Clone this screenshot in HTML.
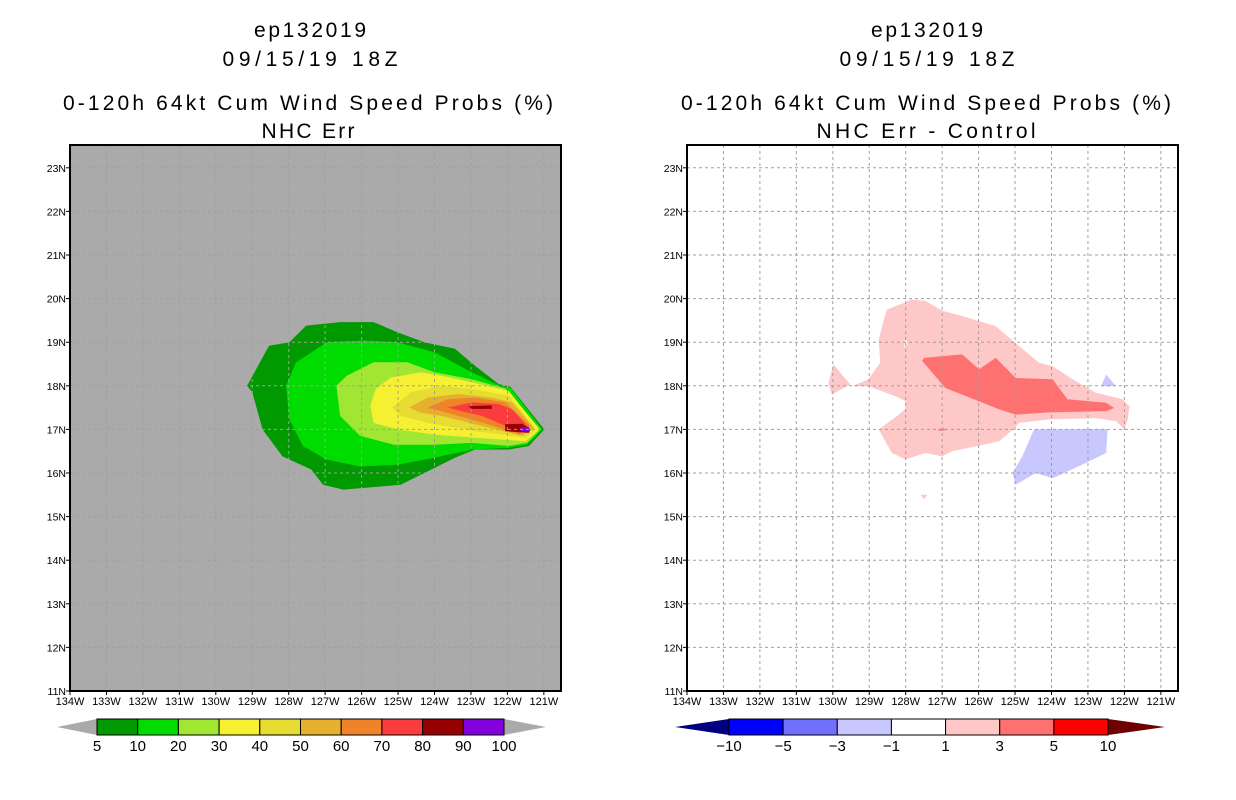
<!DOCTYPE html>
<html><head><meta charset="utf-8"><style>
html,body{margin:0;padding:0;background:#fff;}
svg{display:block;font-family:"Liberation Sans",sans-serif;}
</style></head><body>
<svg id="chart" width="1236" height="800" xmlns="http://www.w3.org/2000/svg">
<g font-size="21" text-anchor="middle" fill="#000">
<text x="310" y="37" textLength="112" lengthAdjust="spacing">ep132019</text><text x="310" y="66" textLength="175" lengthAdjust="spacing">09/15/19 18Z</text>
<text x="308" y="110" textLength="490" lengthAdjust="spacing">0-120h 64kt Cum Wind Speed Probs (%)</text><text x="308" y="138" textLength="93" lengthAdjust="spacing">NHC Err</text></g>
<g font-size="21" text-anchor="middle" fill="#000">
<text x="927" y="37" textLength="112" lengthAdjust="spacing">ep132019</text><text x="927" y="66" textLength="175" lengthAdjust="spacing">09/15/19 18Z</text>
<text x="926" y="110" textLength="490" lengthAdjust="spacing">0-120h 64kt Cum Wind Speed Probs (%)</text><text x="926" y="138" textLength="219" lengthAdjust="spacing">NHC Err - Control</text></g>
</svg>
<script>
// ---- data ----
const lonTicks=[134,133,132,131,130,129,128,127,126,125,124,123,122,121];
const latTicks=[11,12,13,14,15,16,17,18,19,20,21,22,23];
const probLevels=[5,10,20,30,40,50,60,70,80,90,100];
const probColors=["#009900","#00dc00","#a0e632","#f5f032","#e6dc32","#e6af2d","#f08228","#fa3c3c","#960000","#8200dc"];
const diffLevels=[-10,-5,-3,-1,1,3,5,10];
const diffColors=["#0000ff","#7070ff","#c8c8ff","#ffffff","#ffc8c8","#ff7070","#ff0000"];
const prob5=[[129.14,18.0],[128.54,18.92],[127.98,19.0],[127.52,19.38],[126.59,19.46],[125.67,19.46],[125.02,19.23],[124.28,19.0],[123.44,18.85],[122.89,18.46],[122.24,18.04],[121.92,17.98],[120.99,17.0],[121.41,16.62],[121.96,16.54],[122.89,16.54],[123.44,16.35],[124.28,16.0],[124.93,15.73],[126.5,15.62],[127.06,15.73],[127.38,16.08],[128.17,16.38],[128.72,17.0],[129.0,17.85]];
const prob10=[[128.07,18.0],[127.8,18.54],[127.52,18.69],[126.96,19.0],[125.94,19.04],[125.02,19.0],[124.0,18.77],[122.98,18.31],[122.15,17.98],[121.92,17.96],[121.04,17.0],[121.46,16.65],[121.96,16.58],[122.98,16.54],[124.0,16.35],[125.02,16.19],[126.04,16.15],[126.96,16.31],[127.61,16.62],[127.98,17.23]];
const prob20=[[126.69,18.0],[126.41,18.23],[125.67,18.54],[124.74,18.54],[124.0,18.31],[122.98,18.15],[122.06,17.94],[121.09,17.0],[121.46,16.69],[121.96,16.62],[122.98,16.69],[124.0,16.65],[125.11,16.65],[126.04,16.85],[126.59,17.31]];
const prob30=[[125.76,17.54],[125.62,17.92],[125.2,18.19],[124.37,18.31],[123.81,18.23],[122.98,18.08],[121.96,17.88],[121.13,17.0],[121.5,16.73],[122.89,16.81],[124.0,16.88],[125.02,17.0],[125.67,17.15]];
const prob40=[[125.16,17.5],[124.65,17.85],[123.81,18.0],[122.89,17.92],[121.96,17.77],[121.22,17.0],[121.5,16.81],[122.89,16.96],[124.19,17.15],[124.93,17.31]];
const prob50=[[124.69,17.5],[124.19,17.73],[123.35,17.81],[122.43,17.73],[121.87,17.62],[121.27,17.04],[121.59,16.85],[122.7,17.08],[123.81,17.31],[124.37,17.38]];
const prob60=[[124.19,17.5],[123.63,17.69],[122.89,17.73],[122.06,17.62],[121.37,17.08],[121.68,16.88],[122.52,17.12],[123.35,17.31],[123.81,17.42]];
const prob70=[[123.63,17.5],[122.98,17.62],[122.24,17.58],[121.87,17.46],[121.41,17.04],[121.68,16.92],[122.15,17.12],[122.7,17.31],[123.26,17.42]];
const prob80a=[[123.07,17.53],[122.43,17.55],[122.43,17.47],[122.98,17.47]];
const prob80b=[[122.06,17.12],[121.59,17.13],[121.37,17.0],[121.41,16.92],[122.06,16.96]];
const prob90=[[121.64,17.04],[121.41,17.06],[121.39,16.96],[121.64,16.96]];
const diffPos1=[[128.51,19.75],[127.83,19.98],[127.46,19.95],[127.0,19.72],[126.45,19.6],[125.53,19.37],[124.89,18.91],[124.34,18.53],[123.97,18.45],[123.42,18.15],[122.78,17.84],[122.05,17.69],[121.86,17.53],[121.91,17.23],[122.0,17.0],[122.23,17.19],[122.78,17.26],[124.06,17.23],[124.89,17.15],[125.16,16.92],[125.44,16.73],[126.08,16.61],[126.72,16.5],[127.0,16.38],[127.46,16.46],[128.01,16.31],[128.38,16.46],[128.74,17.0],[128.19,17.34],[128.01,17.46],[128.01,17.65],[128.28,17.76],[129.02,17.99],[129.48,17.99],[129.02,18.15],[128.7,18.53],[128.74,19.07],[128.56,19.64]];
const diffPosWest=[[129.98,18.49],[129.52,18.03],[130.03,17.8],[130.12,18.07]];
const diffPosSouth=[[127.6,15.5],[127.41,15.5],[127.5,15.4]];
const diffPos3=[[127.5,18.64],[126.45,18.72],[125.99,18.38],[125.53,18.64],[124.98,18.18],[123.97,18.15],[123.56,17.69],[122.5,17.61],[122.28,17.49],[122.5,17.42],[124.06,17.39],[124.98,17.34],[125.44,17.46],[126.91,17.95],[127.55,18.57]];
const diffPos3b=[[127.1,17.01],[126.95,17.02],[126.9,16.98],[127.1,16.97]];
const diffNeg1=[[124.48,17.0],[122.46,17.01],[122.5,16.46],[123.06,16.23],[123.97,15.88],[124.43,16.0],[124.98,15.73],[125.07,16.0],[124.8,16.38]];
const diffNeg1b=[[122.5,18.26],[122.23,17.99],[122.64,17.99]];
const diffHole=[[128.0,19.1],[127.95,18.95],[128.05,18.88]];

// ---- drawing ----
const NS="http://www.w3.org/2000/svg";
const svg=document.getElementById('chart');
function mk(tag,attrs,parent){const e=document.createElementNS(NS,tag);for(const k in attrs)e.setAttribute(k,attrs[k]);(parent||svg).appendChild(e);return e;}
const PX_DEG_X=36.45, PX_DEG_Y=43.6, TOP=145, BOT=691, W=491;
function panel(x0,bg,name){
  const xs=lon=>x0+(134-lon)*PX_DEG_X;
  const ys=lat=>BOT-(lat-11)*PX_DEG_Y;
  const g=mk('g',{});
  
  
  const cp=mk('clipPath',{id:name+'-clip'},g);
  mk('rect',{x:x0,y:TOP,width:W,height:BOT-TOP},cp);
  const bgr=mk('rect',{x:x0,y:TOP,width:W,height:BOT-TOP,fill:bg},g);
  
  
  const cg=mk('g',{'clip-path':'url(#'+name+'-clip)'},g);
  return {xs,ys,g,cg,x0};
}
function poly(p,pts,fill,nm){
  const e=mk('polygon',{points:pts.map(q=>p.xs(q[0]).toFixed(1)+','+p.ys(q[1]).toFixed(1)).join(' '),fill:fill},p.cg);
  
  
}
function axes(p){
  const gg=mk('g',{stroke:'#a0a0a0','stroke-width':1,'stroke-dasharray':'3,3'},p.cg);
  lonTicks.forEach(l=>{if(l<134)mk('line',{x1:p.xs(l),x2:p.xs(l),y1:TOP,y2:BOT},gg);});
  latTicks.forEach(l=>{if(l>11)mk('line',{x1:p.x0,x2:p.x0+W,y1:p.ys(l),y2:p.ys(l)},gg);});
  const fr=mk('rect',{x:p.x0,y:TOP,width:W,height:BOT-TOP,fill:'none',stroke:'#000','stroke-width':2},p.g);
  
  
  lonTicks.forEach(l=>{
    const x=p.xs(l);
    mk('line',{x1:x,x2:x,y1:BOT,y2:BOT+4,stroke:'#000'},p.g);
    const t=mk('text',{x:x,y:BOT+14,'font-size':11,'text-anchor':'middle'},p.g);
    t.textContent=l+'W';
    
    
  });
  latTicks.forEach(l=>{
    const y=p.ys(l);
    mk('line',{x1:p.x0-4,x2:p.x0,y1:y,y2:y,stroke:'#000'},p.g);
    const t=mk('text',{x:p.x0-4,y:y+4,'font-size':10.5,'text-anchor':'end'},p.g);
    t.textContent=l+'N';
    
    
  });
}
// left
const L=panel(70,'#aaaaaa','left-prob-map');
[prob5,prob10,prob20,prob30,prob40,prob50,prob60,prob70].forEach((pts,i)=>poly(L,pts,probColors[i],'prob-contour-'+probLevels[i]));
poly(L,prob80a,probColors[8],'prob-contour-80');
poly(L,prob80b,probColors[8],'prob-contour-80');
poly(L,prob90,probColors[9],'prob-contour-90');
axes(L);
// right
const R=panel(687,'#ffffff','right-diff-map');
poly(R,diffPos1,diffColors[4],'diff-contour-1');
poly(R,diffPosWest,diffColors[4],'diff-contour-1');
poly(R,diffPosSouth,diffColors[4],'diff-contour-1');
poly(R,diffHole,'#ffffff','diff-hole');
poly(R,diffPos3,diffColors[5],'diff-contour-3');
poly(R,diffPos3b,diffColors[5],'diff-contour-3');
poly(R,diffNeg1,diffColors[2],'diff-contour-neg1');
poly(R,diffNeg1b,diffColors[2],'diff-contour-neg1');
axes(R);
// colorbars
function colorbar(x0,x1,tl,tr,colors,labels,lc,rc,name){
  const g=mk('g',{});
  
  
  const y0=719,y1=735,ym=727,n=colors.length,w=(x1-x0)/n;
  mk('polygon',{points:`${tl},${ym} ${x0},${y0} ${x0},${y1}`,fill:lc},g);
  mk('polygon',{points:`${tr},${ym} ${x1},${y0} ${x1},${y1}`,fill:rc},g);
  colors.forEach((c,i)=>{
    const r=mk('rect',{x:x0+i*w,y:y0,width:w,height:y1-y0,fill:c,stroke:'#000','stroke-width':1},g);
    
    
  });
  labels.forEach((v,i)=>{
    const t=mk('text',{x:x0+i*w,y:751,'font-size':15,'text-anchor':'middle'},g);
    t.textContent=v<0?'\u2212'+(-v):v;
    
    
  });
}
colorbar(97,504,57,546,probColors,probLevels,'#aaaaaa','#aaaaaa','prob-colorbar');
colorbar(729,1108,675,1165,diffColors,diffLevels,'#000080','#6e0000','diff-colorbar');
</script>
</body></html>
